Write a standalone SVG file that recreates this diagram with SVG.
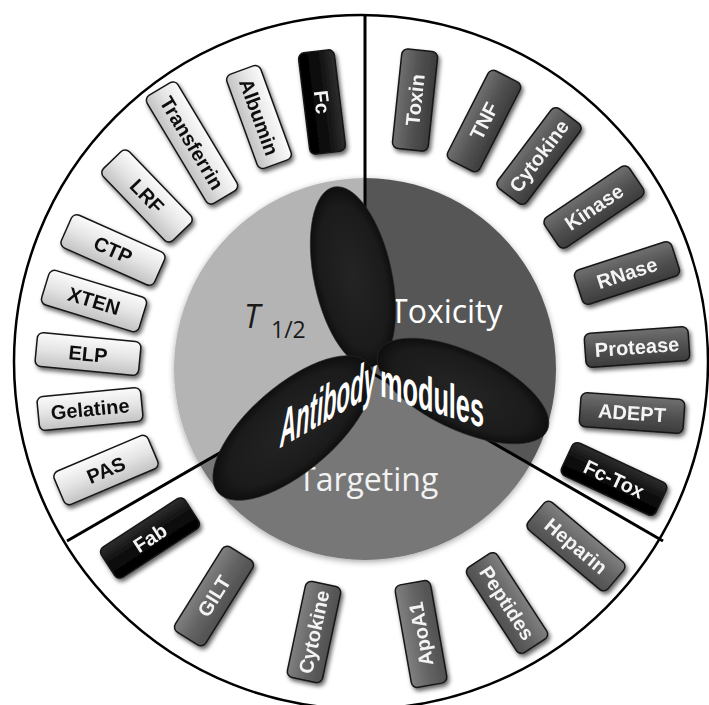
<svg xmlns="http://www.w3.org/2000/svg" width="709" height="705" viewBox="0 0 709 705">
<defs>
  <linearGradient id="gLight" x1="0" y1="0" x2="0" y2="1">
    <stop offset="0" stop-color="#fbfbfb"/><stop offset="0.5" stop-color="#e4e4e4"/><stop offset="1" stop-color="#c2c2c2"/>
  </linearGradient>
  <linearGradient id="gDark" x1="0" y1="0" x2="0" y2="1">
    <stop offset="0" stop-color="#707070"/><stop offset="0.5" stop-color="#525252"/><stop offset="1" stop-color="#3c3c3c"/>
  </linearGradient>
  <linearGradient id="gMid" x1="0" y1="0" x2="0" y2="1">
    <stop offset="0" stop-color="#808080"/><stop offset="0.5" stop-color="#646464"/><stop offset="1" stop-color="#505050"/>
  </linearGradient>
  <linearGradient id="gBlack" x1="0" y1="0" x2="0" y2="1">
    <stop offset="0" stop-color="#2e2e2e"/><stop offset="0.5" stop-color="#0c0c0c"/><stop offset="1" stop-color="#000"/>
  </linearGradient>
  <radialGradient id="gEll" cx="0.5" cy="0.5" r="0.5">
    <stop offset="0" stop-color="#242424"/><stop offset="0.8" stop-color="#1b1b1b"/><stop offset="1" stop-color="#0e0e0e"/>
  </radialGradient>
  <filter id="sh" x="-30%" y="-30%" width="160%" height="160%">
    <feDropShadow dx="2" dy="3" stdDeviation="2" flood-color="#000" flood-opacity="0.6"/>
  </filter>
  <filter id="shSoft" x="-10%" y="-10%" width="120%" height="120%">
    <feDropShadow dx="0" dy="2" stdDeviation="3" flood-color="#000" flood-opacity="0.35"/>
  </filter>
</defs>
<style>
  .box rect { stroke:#151515; stroke-width:1.5; }
  .light rect { fill:url(#gLight); }
  .dark rect { fill:url(#gDark); }
  .mid rect { fill:url(#gMid); }
  .black rect { fill:url(#gBlack); }
  .box text { font-family:"Liberation Sans", Arial, sans-serif; font-weight:bold; font-size:20px; text-anchor:middle; }
  .light text { fill:#111; }
  .dark text, .mid text, .black text { fill:#f4f4f4; }
  .sect { font-family:"Open Sans", "Liberation Sans", sans-serif; font-size:32px; }
  .ell { fill:url(#gEll); stroke:#2a2a2a; stroke-width:0.6; }
  .conn { stroke:#000; stroke-width:3; fill:none; }
  .ab { font-family:"Liberation Sans", Arial, sans-serif; font-weight:bold; fill:#fff; }
</style>

<rect width="709" height="705" fill="#fff"/>
<circle id="outer" cx="361" cy="362" r="347" fill="#fff" stroke="#000" stroke-width="2.5"/>

<!-- T1/2 modules -->
<g id="box-fc" class="box black" filter="url(#sh)"><g transform="translate(322,102) rotate(83)"><rect x="-51" y="-18" width="102" height="36" rx="6"/><text dy="7">Fc</text></g></g>
<g id="box-albumin" class="box light" filter="url(#sh)"><g transform="translate(259,117) rotate(70)"><rect x="-50" y="-18" width="100" height="36" rx="6"/><text dy="7">Albumin</text></g></g>
<g id="box-transferrin" class="box light" filter="url(#sh)"><g transform="translate(192,143) rotate(59)"><rect x="-63" y="-18" width="126" height="36" rx="6"/><text dy="7">Transferrin</text></g></g>
<g id="box-lrf" class="box light" filter="url(#sh)"><g transform="translate(147,196) rotate(46)"><rect x="-50" y="-18" width="100" height="36" rx="6"/><text dy="7">LRF</text></g></g>
<g id="box-ctp" class="box light" filter="url(#sh)"><g transform="translate(113,250) rotate(24)"><rect x="-51" y="-18" width="102" height="36" rx="6"/><text dy="7">CTP</text></g></g>
<g id="box-xten" class="box light" filter="url(#sh)"><g transform="translate(94,301) rotate(17)"><rect x="-51" y="-18" width="102" height="36" rx="6"/><text dy="7">XTEN</text></g></g>
<g id="box-elp" class="box light" filter="url(#sh)"><g transform="translate(88,354) rotate(5.5)"><rect x="-52" y="-17" width="104" height="34" rx="6"/><text dy="7">ELP</text></g></g>
<g id="box-gelatine" class="box light" filter="url(#sh)"><g transform="translate(90,409) rotate(-5.5)"><rect x="-52" y="-17" width="104" height="34" rx="6"/><text dy="7">Gelatine</text></g></g>
<g id="box-pas" class="box light" filter="url(#sh)"><g transform="translate(106,470) rotate(-23)"><rect x="-51" y="-18" width="102" height="36" rx="6"/><text dy="7">PAS</text></g></g>

<!-- Toxicity modules -->
<g id="box-toxin" class="box dark" filter="url(#sh)"><g transform="translate(415,100) rotate(-84)"><rect x="-50" y="-18" width="100" height="36" rx="6"/><text dy="7">Toxin</text></g></g>
<g id="box-tnf" class="box dark" filter="url(#sh)"><g transform="translate(484,121) rotate(-63)"><rect x="-50" y="-18" width="100" height="36" rx="6"/><text dy="7">TNF</text></g></g>
<g id="box-cytokine-tox" class="box dark" filter="url(#sh)"><g transform="translate(539,156) rotate(-53)"><rect x="-50" y="-18" width="100" height="36" rx="6"/><text dy="7">Cytokine</text></g></g>
<g id="box-kinase" class="box dark" filter="url(#sh)"><g transform="translate(594,207) rotate(-34)"><rect x="-51" y="-18" width="102" height="36" rx="6"/><text dy="7">Kinase</text></g></g>
<g id="box-rnase" class="box dark" filter="url(#sh)"><g transform="translate(627,273) rotate(-18)"><rect x="-51" y="-18" width="102" height="36" rx="6"/><text dy="7">RNase</text></g></g>
<g id="box-protease" class="box dark" filter="url(#sh)"><g transform="translate(637,347) rotate(-4)"><rect x="-52" y="-17" width="104" height="34" rx="6"/><text dy="7">Protease</text></g></g>
<g id="box-adept" class="box dark" filter="url(#sh)"><g transform="translate(632,413) rotate(4)"><rect x="-52" y="-17" width="104" height="34" rx="6"/><text dy="7">ADEPT</text></g></g>
<g id="box-fctox" class="box black" filter="url(#sh)"><g transform="translate(614,479) rotate(25)"><rect x="-52" y="-18" width="104" height="36" rx="6"/><text dy="7">Fc-Tox</text></g></g>

<!-- Targeting modules -->
<g id="box-heparin" class="box mid" filter="url(#sh)"><g transform="translate(576,546) rotate(40)"><rect x="-52" y="-18" width="104" height="36" rx="6"/><text dy="7">Heparin</text></g></g>
<g id="box-peptides" class="box mid" filter="url(#sh)"><g transform="translate(507,603) rotate(57)"><rect x="-51" y="-18" width="102" height="36" rx="6"/><text dy="7">Peptides</text></g></g>
<g id="box-apoa1" class="box mid" filter="url(#sh)"><g transform="translate(421,634) rotate(-100)"><rect x="-52" y="-18" width="104" height="36" rx="6"/><text dy="7">ApoA1</text></g></g>
<g id="box-cytokine-tgt" class="box mid" filter="url(#sh)"><g transform="translate(314,632) rotate(-78)"><rect x="-49" y="-18" width="98" height="36" rx="6"/><text dy="7">Cytokine</text></g></g>
<g id="box-gilt" class="box mid" filter="url(#sh)"><g transform="translate(214,596) rotate(-58)"><rect x="-50" y="-18" width="100" height="36" rx="6"/><text dy="7">GILT</text></g></g>
<g id="box-fab" class="box black" filter="url(#sh)"><g transform="translate(150,538) rotate(-33)"><rect x="-50" y="-18" width="100" height="36" rx="6"/><text dy="7">Fab</text></g></g>

<!-- central pie -->
<g id="pie" filter="url(#shSoft)">
  <path id="sector-t12" d="M365,369 L365,178 A191,191 0 0 0 199.6,464.5 Z" fill="#b4b4b4"/>
  <path id="sector-toxicity" d="M365,369 L365,178 A191,191 0 0 1 530.4,464.5 Z" fill="#575757"/>
  <path id="sector-targeting" d="M365,369 L530.4,464.5 A191,191 0 0 1 199.6,464.5 Z" fill="#777777"/>
</g>
<g id="label-t12" class="sect" fill="#1a1a1a">
  <text x="244" y="328" font-style="italic">T</text>
  <text x="271" y="338" font-size="23">1/2</text>
</g>
<text id="label-toxicity" class="sect" x="390" y="323" fill="#ffffff">Toxicity</text>
<text id="label-targeting" class="sect" x="298" y="491" fill="#f2f2f2">Targeting</text>

<!-- connectors (sector dividers) -->
<g id="connectors">
  <line class="conn" x1="365" y1="15" x2="365" y2="369"/>
  <line class="conn" x1="67" y1="541" x2="365" y2="369"/>
  <line class="conn" x1="663" y1="541" x2="365" y2="369"/>
</g>

<!-- antibody propeller -->
<g id="antibody">
  <ellipse class="ell" cx="353" cy="277" rx="39" ry="92" transform="rotate(-12 353 277)"/>
  <ellipse class="ell" cx="293" cy="428" rx="99" ry="43" transform="rotate(-40.7 293 428)"/>
  <ellipse class="ell" cx="463" cy="391" rx="93" ry="39" transform="rotate(25 463 391)"/>
  <g transform="translate(280,448) skewY(-30)">
    <text class="ab" x="0" y="0" font-size="52" font-style="italic" textLength="96" lengthAdjust="spacingAndGlyphs">Antibody</text>
  </g>
  <g transform="translate(380,396) skewY(17)">
    <text class="ab" x="0" y="0" font-size="48" textLength="104" lengthAdjust="spacingAndGlyphs">modules</text>
  </g>
</g>
</svg>
